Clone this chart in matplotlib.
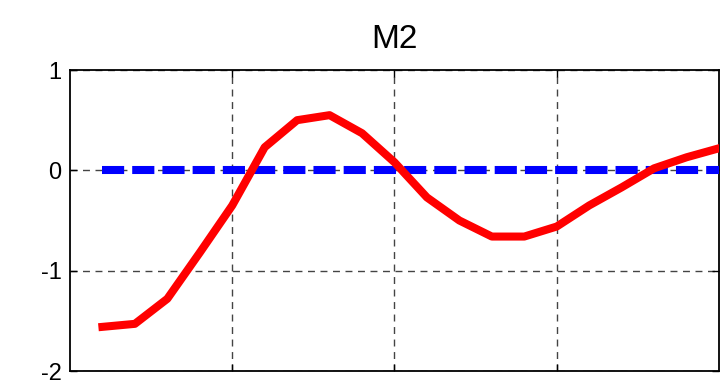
import matplotlib
matplotlib.use('Agg')
import matplotlib.pyplot as plt
import numpy as np

# quarters after the shock
periods = np.arange(1, 21)
# impulse response of M2
m2_response = [-1.56, -1.53, -1.28, -0.82, -0.35, 0.23, 0.50, 0.55, 0.37, 0.08,
               -0.27, -0.50, -0.66, -0.66, -0.56, -0.35, -0.17, 0.02, 0.13, 0.22]
zero_line = [0.0] * len(periods)

plt.rcParams['font.family'] = ['Liberation Sans', 'DejaVu Sans']

fig = plt.figure(figsize=(7.2, 3.9), dpi=100)
ax = fig.add_axes([0.0972, 0.0487, 0.9014, 0.7718])

ax.plot(periods, zero_line, color='#0000ff', lw=5.8, dashes=(2.75, 1.0),
        solid_capstyle='butt', dash_capstyle='butt', zorder=3)
ax.plot(periods, m2_response, color='#ff0000', lw=5.8, zorder=4)

ax.set_xlim(0, 20)
ax.set_ylim(-2, 1)
ax.set_xticks([5, 10, 15])
ax.set_yticks([-2, -1, 0, 1])
ax.set_yticklabels(['-2', '-1', '0', '1'])
ax.tick_params(axis='x', labelbottom=False)
ax.tick_params(direction='in', length=5, width=1, top=True, right=True,
               labelsize=17, pad=6)
ax.grid(True, color='#444444', linestyle=(0, (5, 4)), linewidth=1.0)
for sp in ax.spines.values():
    sp.set_linewidth(1.3)

ax.set_title('M2', fontsize=24, pad=16)

fig.savefig('out.png', dpi=100)
